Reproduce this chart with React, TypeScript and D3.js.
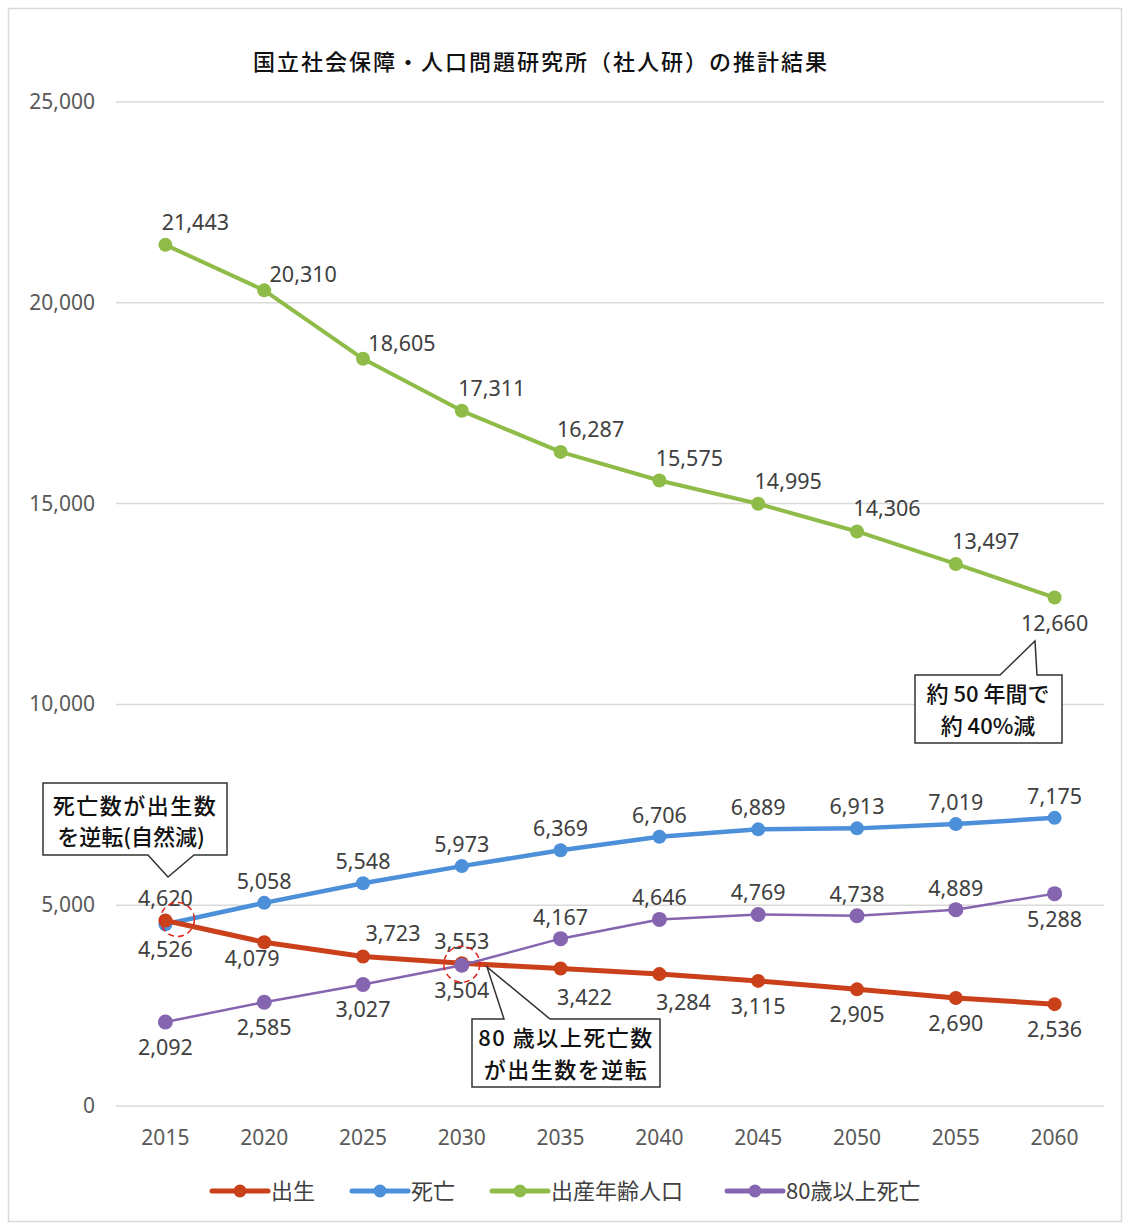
import React from "react";
import * as d3 from "d3";

const years = ["2015", "2020", "2025", "2030", "2035", "2040", "2045", "2050", "2055", "2060"];
const births = [4620, 4079, 3723, 3553, 3422, 3284, 3115, 2905, 2690, 2536];
const deaths = [4526, 5058, 5548, 5973, 6369, 6706, 6889, 6913, 7019, 7175];
const fertileAgePop = [21443, 20310, 18605, 17311, 16287, 15575, 14995, 14306, 13497, 12660];
const deaths80plus = [2092, 2585, 3027, 3504, 4167, 4646, 4769, 4738, 4889, 5288];
const yTicks = [0, 5000, 10000, 15000, 20000, 25000];

// label placement codes (a = above, b = below, ar = above-right, r = right, br = below-right, bl = below-left)
const birthsPlace = ["a", "bl", "ar", "a", "br", "br", "b", "b", "b", "b"];
const deathsPlace = ["b", "a", "a", "a", "a", "a", "a", "a", "a", "a"];
const fertilePlace = ["ar", "r", "r", "ar", "ar", "ar", "ar", "ar", "ar", "b"];
const d80Place = ["b", "b", "b", "b", "a", "a", "a", "a", "a", "b"];

const title = "国立社会保障・人口問題研究所（社人研）の推計結果";

const W = 1124;
const H = 1225;
const M = { left: 116, right: 1104, top: 102, bottom: 1106 };

const NUM_FONT = "'Noto Sans', 'DejaVu Sans', sans-serif";
const JP_FONT = "'Noto Sans CJK JP', 'Noto Sans', sans-serif";

const series = [
  { name: "出生", values: births, place: birthsPlace, color: "#c9401a", width: 5, r: 7 },
  { name: "死亡", values: deaths, place: deathsPlace, color: "#4d90da", width: 4.5, r: 7 },
  { name: "出産年齢人口", values: fertileAgePop, place: fertilePlace, color: "#8fbc48", width: 4, r: 7 },
  { name: "80歳以上死亡", values: deaths80plus, place: d80Place, color: "#8565b0", width: 2.5, r: 7.5 },
];

const fmt = d3.format(",");

function offset(code: string): [number, number] {
  switch (code) {
    case "a": return [0, -14];
    case "b": return [0, 33];
    case "ar": return [30, -15];
    case "r": return [39, -8];
    case "br": return [24, 36];
    case "bl": return [-12, 24];
    default: return [0, -14];
  }
}

export default function App() {
  const x = d3.scaleBand<string>().domain(years).range([M.left, M.right]);
  const cx = (y: string) => (x(y) as number) + x.bandwidth() / 2;
  const y = d3.scaleLinear().domain([0, 25000]).range([M.bottom, M.top]);

  const line = d3
    .line<number>()
    .x((_, i) => cx(years[i]))
    .y((v) => y(v));

  const drawOrder = [2, 1, 0, 3];

  const legendItems = [
    { s: series[0], x0: 212 },
    { s: series[1], x0: 352 },
    { s: series[2], x0: 492 },
    { s: series[3], x0: 727 },
  ];

  return (
    <svg
      width={W}
      height={H}
      style={{ position: "absolute", left: 0, top: 0, background: "#fff" }}
    >
      <rect x={8.5} y={8.5} width={1113} height={1213} fill="#fff" stroke="#d9d9d9" strokeWidth={1.5} />

      <text x={541} y={70} textAnchor="middle" fontFamily={JP_FONT} fontSize={22} fontWeight={500} letterSpacing={2} fill="#111">
        {title}
      </text>

      {yTicks.map((t) => (
        <g key={t}>
          <line x1={M.left} x2={M.right} y1={y(t)} y2={y(t)} stroke="#d9d9d9" strokeWidth={1.5} />
          <text x={95} y={y(t) + 7} textAnchor="end" fontFamily={NUM_FONT} fontSize={21} fill="#595959">
            {fmt(t)}
          </text>
        </g>
      ))}

      {years.map((yr) => (
        <text key={yr} x={cx(yr)} y={1145} textAnchor="middle" fontFamily={NUM_FONT} fontSize={21} fill="#595959">
          {yr}
        </text>
      ))}

      {drawOrder.map((i) => {
        const s = series[i];
        return (
          <g key={s.name}>
            <path d={line(s.values) || ""} fill="none" stroke={s.color} strokeWidth={s.width} strokeLinejoin="round" />
            {s.values.map((v, j) => (
              <circle key={j} cx={cx(years[j])} cy={y(v)} r={s.r} fill={s.color} />
            ))}
          </g>
        );
      })}

      {series.map((s) =>
        s.values.map((v, j) => {
          const [dx, dy] = offset(s.place[j]);
          return (
            <text
              key={s.name + j}
              x={cx(years[j]) + dx}
              y={y(v) + dy}
              textAnchor="middle"
              fontFamily={NUM_FONT}
              fontSize={21.5}
              fill="#404040"
            >
              {fmt(v)}
            </text>
          );
        })
      )}

      <circle cx={cx("2015") + 12} cy={y(4620) - 1} r={17} fill="none" stroke="#e0261c" strokeWidth={1.5} strokeDasharray="6,4" />
      <circle cx={cx("2030")} cy={y(3530)} r={18} fill="none" stroke="#e0261c" strokeWidth={1.5} strokeDasharray="6,4" />

      <path
        d="M43,783 L227,783 L227,855 L194,855 L168,877 L148,855 L43,855 Z"
        fill="#fff"
        stroke="#333"
        strokeWidth={1.5}
      />
      <text x={135} y={814} textAnchor="middle" fontFamily={JP_FONT} fontSize={22} fontWeight={500} letterSpacing={1.5} fill="#111">
        死亡数が出生数
      </text>
      <text x={131} y={845} textAnchor="middle" fontFamily={JP_FONT} fontSize={22} fontWeight={500} fill="#111">
        を逆転(自然減)
      </text>

      <path
        d="M472,1019 L504,1019 L487,967 L550,1019 L660,1019 L660,1087 L472,1087 Z"
        fill="#fff"
        stroke="#333"
        strokeWidth={1.5}
      />
      <text x={566} y={1046} textAnchor="middle" fontFamily={JP_FONT} fontSize={22} fontWeight={500} letterSpacing={1.5} fill="#111">
        80 歳以上死亡数
      </text>
      <text x={566} y={1078} textAnchor="middle" fontFamily={JP_FONT} fontSize={22} fontWeight={500} letterSpacing={1.5} fill="#111">
        が出生数を逆転
      </text>

      <path
        d="M915,675 L1000,675 L1035,641 L1037,675 L1062,675 L1062,743 L915,743 Z"
        fill="#fff"
        stroke="#333"
        strokeWidth={1.5}
      />
      <text x={988} y={702} textAnchor="middle" fontFamily={JP_FONT} fontSize={22} fontWeight={500} fill="#111">
        約 50 年間で
      </text>
      <text x={988} y={734} textAnchor="middle" fontFamily={JP_FONT} fontSize={22} fontWeight={500} fill="#111">
        約 40%減
      </text>

      {legendItems.map(({ s, x0 }) => (
        <g key={s.name}>
          <line x1={x0} x2={x0 + 56} y1={1191} y2={1191} stroke={s.color} strokeWidth={5} strokeLinecap="round" />
          <circle cx={x0 + 28} cy={1191} r={6.5} fill={s.color} />
          <text x={x0 + 59} y={1199} fontFamily={JP_FONT} fontSize={22} fill="#404040">
            {s.name}
          </text>
        </g>
      ))}
    </svg>
  );
}
